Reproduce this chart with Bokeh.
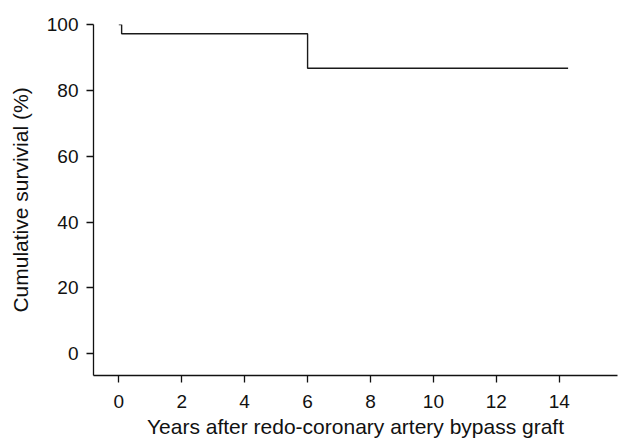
from bokeh.plotting import figure
from bokeh.models import Range1d, FixedTicker
from bokeh.embed import file_html
from bokeh.resources import INLINE

# Kaplan-Meier data
years = [0.0, 0.09, 6.0, 14.28]
survival = [100.0, 97.2, 86.7, 86.7]
x_ticks = [0, 2, 4, 6, 8, 10, 12, 14]
y_ticks = [0, 20, 40, 60, 80, 100]
x_title = "Years after redo-coronary artery bypass graft"
y_title = "Cumulative survivial (%)"

FONT = "Liberation Sans"

p = figure(width=618, height=441, output_backend="svg", toolbar_location=None,
           x_range=Range1d(-0.804, 15.85), y_range=Range1d(-6.61, 100.0),
           min_border_left=93, min_border_right=1, min_border_top=24, min_border_bottom=66)

p.outline_line_color = None
p.xgrid.visible = False
p.ygrid.visible = False
p.background_fill_color = "white"
p.border_fill_color = "white"

for ax in (p.xaxis[0], p.yaxis[0]):
    ax.axis_line_color = "#111111"
    ax.axis_line_width = 1.3
    ax.major_tick_line_color = "#111111"
    ax.major_tick_line_width = 1.3
    ax.major_tick_in = 0
    ax.major_tick_out = 7
    ax.minor_tick_line_color = None
    ax.major_label_text_font = FONT
    ax.major_label_text_font_size = "19px"
    ax.major_label_text_color = "#111111"
    ax.axis_label_text_font = FONT
    ax.axis_label_text_font_size = "21px"
    ax.axis_label_text_font_style = "normal"
    ax.axis_label_text_color = "#111111"

p.xaxis[0].ticker = FixedTicker(ticks=x_ticks)
p.yaxis[0].ticker = FixedTicker(ticks=y_ticks)
p.xaxis[0].major_label_standoff = 12
p.yaxis[0].major_label_standoff = 8
p.xaxis[0].axis_label = x_title
p.yaxis[0].axis_label = y_title
p.xaxis[0].axis_label_standoff = 4
p.xaxis[0].axis_label_text_line_height = 0.75
p.yaxis[0].axis_label_standoff = 12

p.step(years, survival, mode="after", line_color="#1a1a1a", line_width=1.4)

open("out.html", "w").write(file_html(p, INLINE))
